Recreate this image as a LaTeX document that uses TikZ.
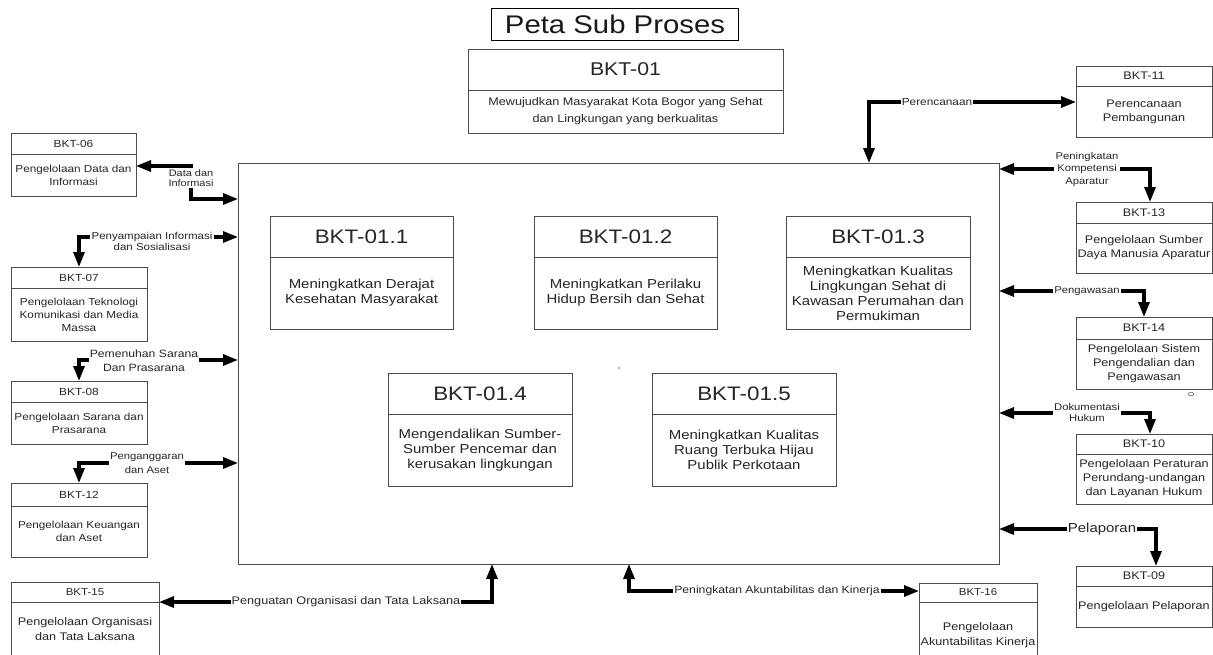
\documentclass[tikz,border=0pt]{standalone}
\usepackage{fontspec}
\setmainfont{Liberation Sans}[FakeStretch=1.15]
\usetikzlibrary{arrows.meta}

\tikzset{
  procframe/.style={draw=black!70, line width=0.9pt, inner sep=0pt, outer sep=0pt},
  procline/.style={draw=black!70, line width=0.9pt},
  txt/.style={text=black!85, align=center, inner sep=0pt},
  bighdr/.style={txt, font=\fontsize{18.5}{20}\selectfont},
  bigdsc/.style={txt, font=\fontsize{11}{17}\selectfont},
  inhdr/.style={txt, font=\fontsize{19.5}{21}\selectfont},
  indsc/.style={txt, font=\fontsize{13}{15}\selectfont},
  lfhdr/.style={txt, font=\fontsize{10.3}{12}\selectfont},
  lfdsc/.style={txt, font=\fontsize{10.2}{13}\selectfont},
  rthdr/.style={txt, font=\fontsize{11}{13}\selectfont},
  rtdsc/.style={txt, font=\fontsize{11}{14}\selectfont},
  bthdr/.style={txt, font=\fontsize{10}{12}\selectfont},
  btdsc/.style={txt, font=\fontsize{11}{15.5}\selectfont},
  conn/.style={line width=3.1pt, black,
    {Triangle[length=15pt,width=11pt]}-{Triangle[length=15pt,width=11pt]}},
  lbl/.style={fill=white, inner sep=1.2pt, text=black!85, align=center,
    font=\fontsize{10}{11}\selectfont}
}

% \proc{name}{x1}{y1}{x2}{y divider}{y2}{class}{title}{description}
\newcommand\proc[9]{%
  \node[procframe, anchor=north west, minimum width={#4-#2}, minimum height={#6-#3}] (#1) at (#2,#3) {};
  \draw[procline] (#2,#5) -- (#4,#5);
  \node[#7hdr] (#1-t) at ({(#2+#4)/2},{(#3+#5)/2}) {#8};
  \node[#7dsc] (#1-d) at ({(#2+#4)/2},{(#5+#6)/2}) {#9};
}

\begin{document}
\begin{tikzpicture}[x=1pt, y=-1pt]
\useasboundingbox[fill=white] (0,0) rectangle (1213,654);

% title and top process
\node[draw=black, line width=1pt, anchor=north west, minimum width=247, minimum height=32,
      inner sep=0pt, text=black!90, font=\fontsize{25.5}{28}\selectfont] (title) at (491,8) {Peta Sub Proses};
\proc{bkt01}{468}{49}{783}{90}{133}{big}{BKT-01}{Mewujudkan Masyarakat Kota Bogor yang Sehat\\dan Lingkungan yang berkualitas}

% main container with sub processes
\node[procframe, anchor=north west, minimum width=761, minimum height=401] (main) at (238,163) {};
\proc{s1}{270}{216}{453}{257}{329}{in}{BKT-01.1}{Meningkatkan Derajat\\Kesehatan Masyarakat}
\proc{s2}{534}{216}{717}{257}{329}{in}{BKT-01.2}{Meningkatkan Perilaku\\Hidup Bersih dan Sehat}
\proc{s3}{786}{216}{970}{257}{329}{in}{BKT-01.3}{Meningkatkan Kualitas\\Lingkungan Sehat di\\Kawasan Perumahan dan\\Permukiman}
\proc{s4}{388}{373}{572}{414}{486}{in}{BKT-01.4}{Mengendalikan Sumber-\\Sumber Pencemar dan\\kerusakan lingkungan}
\proc{s5}{652}{373}{836}{414}{486}{in}{BKT-01.5}{Meningkatkan Kualitas\\Ruang Terbuka Hijau\\Publik Perkotaan}
\fill[black!60] (619,368) circle (0.9);

% left side processes
\proc{bkt06}{11}{133}{136}{154}{196}{lf}{BKT-06}{Pengelolaan Data dan\\Informasi}
\proc{bkt07}{11}{267}{147}{288}{341}{lf}{BKT-07}{Pengelolaan Teknologi\\Komunikasi dan Media\\Massa}
\proc{bkt08}{11}{381}{147}{402}{444}{lf}{BKT-08}{Pengelolaan Sarana dan\\Prasarana}
\proc{bkt12}{11}{483}{147}{506}{557}{lf}{BKT-12}{Pengelolaan Keuangan\\dan Aset}

% bottom processes
\proc{bkt15}{11}{582}{159}{602}{656}{bt}{BKT-15}{Pengelolaan Organisasi\\dan Tata Laksana}
\proc{bkt16}{919}{583}{1037}{602}{668}{bt}{BKT-16}{Pengelolaan\\Akuntabilitas Kinerja}

% right side processes
\proc{bkt11}{1076}{66}{1212}{86}{137}{rt}{BKT-11}{Perencanaan\\Pembangunan}
\proc{bkt13}{1076}{202}{1212}{223}{273}{rt}{BKT-13}{Pengelolaan Sumber\\Daya Manusia Aparatur}
\proc{bkt14}{1076}{317}{1212}{339}{389}{rt}{BKT-14}{Pengelolaan Sistem\\Pengendalian dan\\Pengawasan}
\proc{bkt10}{1076}{434}{1212}{454}{504}{rt}{BKT-10}{Pengelolaan Peraturan\\Perundang-undangan\\dan Layanan Hukum}
\proc{bkt09}{1076}{566}{1212}{586}{627}{rt}{BKT-09}{Pengelolaan Pelaporan}
\draw[black!60, line width=0.6pt] (1191,394) ellipse (2.6 and 1.8);

% bend points of the connectors
\coordinate (b11) at (869,102);
\coordinate (b13) at (1150,169);
\coordinate (b14) at (1144,291);
\coordinate (b10) at (1150,413);
\coordinate (b09) at (1156,529);
\coordinate (b16) at (629,591);
\coordinate (b15) at (492,602);
\coordinate (b06a) at (191,166);
\coordinate (b06b) at (191,199);
\coordinate (b07) at (79,237);
\coordinate (b08) at (79,360);
\coordinate (b12) at (79,463);

% connectors
\draw[conn] (main.north -| b11) -- (b11) -- (bkt11.west |- b11);
\draw[conn] (main.east |- b13) -- (b13) -- (bkt13.north -| b13);
\draw[conn] (main.east |- b14) -- (b14) -- (bkt14.north -| b14);
\draw[conn] (main.east |- b10) -- (b10) -- (bkt10.north -| b10);
\draw[conn] (main.east |- b09) -- (b09) -- (bkt09.north -| b09);
\draw[conn] (main.south -| b16) -- (b16) -- (bkt16.west |- b16);
\draw[conn] (bkt15.east |- b15) -- (b15) -- (main.south -| b15);
\draw[conn] (bkt06.east |- b06a) -- (b06a) -- (b06b) -- (main.west |- b06b);
\draw[conn] (main.west |- b07) -- (b07) -- (bkt07.north -| b07);
\draw[conn] (main.west |- b08) -- (b08) -- (bkt08.north -| b08);
\draw[conn] (main.west |- b12) -- (b12) -- (bkt12.north -| b12);

% connector labels
\node[lbl, font=\fontsize{10.3}{11}\selectfont] (l11) at (937,102) {Perencanaan};
\node[lbl, font=\fontsize{9.8}{12.5}\selectfont] (l13) at (1087,169) {Peningkatan\\Kompetensi\\Aparatur};
\node[lbl, font=\fontsize{9.8}{11}\selectfont] (l14) at (1087,291) {Pengawasan};
\node[lbl, font=\fontsize{9.8}{11.5}\selectfont] (l10) at (1087,412.5) {Dokumentasi\\Hukum};
\node[lbl, font=\fontsize{13}{14}\selectfont] (l09) at (1102,529) {Pelaporan};
\node[lbl, font=\fontsize{10.6}{12}\selectfont] (l16) at (777,591) {Peningkatan Akuntabilitas dan Kinerja};
\node[lbl, font=\fontsize{11}{12}\selectfont] (l15) at (346,602) {Penguatan Organisasi dan Tata Laksana};
\node[lbl, font=\fontsize{9.5}{10.7}\selectfont] (l06) at (191,178) {Data dan\\Informasi};
\node[lbl, font=\fontsize{10}{11}\selectfont] (l07) at (152,241.5) {Penyampaian Informasi\\dan Sosialisasi};
\node[lbl, font=\fontsize{10.6}{14}\selectfont] (l08) at (144,361) {Pemenuhan Sarana\\Dan Prasarana};
\node[lbl, font=\fontsize{9.8}{14}\selectfont] (l12) at (147,463) {Penganggaran\\dan Aset};
\end{tikzpicture}
\end{document}
